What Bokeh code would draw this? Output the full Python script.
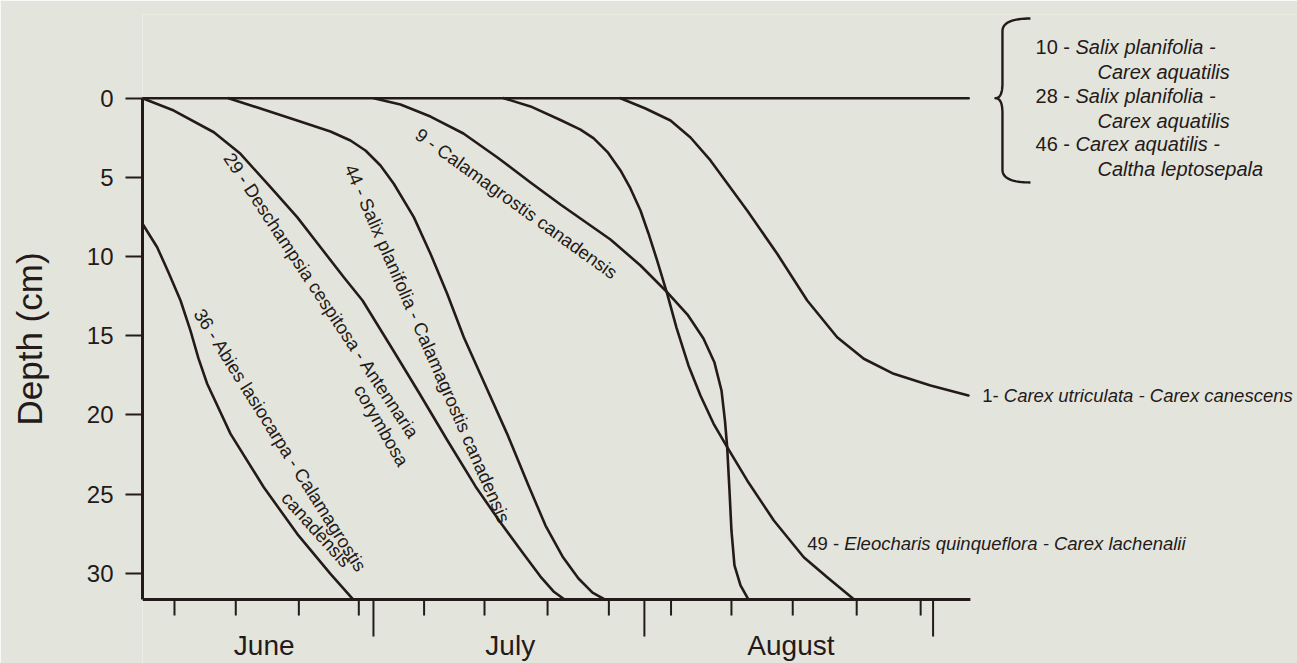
import numpy as np
from bokeh.plotting import figure
from bokeh.models import Range1d, FixedTicker, ColumnDataSource
from bokeh.core.properties import value
from bokeh.embed import file_html
from bokeh.resources import INLINE

# ---------------- data ----------------
# x: days after 1 June, y: depth of water table (cm)
month_names = ["June", "July", "August"]
month_mid_day = [17.1, 44.8, 76.4]
month_start_day = [29.4, 59.9, 92.4]
week_day = [7.0, 13.9, 21.0, 27.75, 35.1, 41.9, 49.0, 55.9, 62.9, 69.7, 76.6, 83.8, 91.0]
depth_ticks = [0, 5, 10, 15, 20, 25, 30]

# stands 10, 28, 46 (water table stays at surface)
surface_day = [3.4, 96.4]
surface_depth = [0.0, 0.0]

s36_day = [3.4, 5.05, 6.33, 7.68, 8.80, 9.70, 10.68, 13.31, 17.05, 20.81, 24.56, 27.13]
s36_depth = [7.93, 9.41, 11.00, 12.77, 14.67, 16.43, 18.03, 21.19, 24.56, 27.50, 30.03, 31.65]

s29_day = [3.4, 6.92, 11.43, 14.43, 17.81, 20.81, 23.44, 26.06, 28.17, 31.43, 34.58, 37.73,
           40.89, 43.70, 46.18, 48.20, 49.67, 50.91]
s29_depth = [0.0, 0.78, 2.15, 3.51, 5.62, 7.51, 9.41, 11.30, 12.77, 15.74, 18.64, 21.61,
             24.51, 26.79, 28.68, 30.20, 31.14, 31.65]

s44_day = [13.08, 16.68, 20.81, 24.56, 26.81, 28.50, 30.19, 31.69, 33.94, 35.82, 37.70, 39.57,
           41.45, 44.45, 46.85, 48.77, 50.68, 52.48, 54.06, 55.48]
s44_depth = [0.0, 0.65, 1.41, 2.10, 2.67, 3.30, 4.25, 5.40, 7.51, 9.82, 12.35, 15.09,
             17.44, 21.19, 24.45, 26.98, 28.93, 30.32, 31.21, 31.65]

s9_day = [29.44, 32.44, 35.82, 39.53, 43.36, 47.08, 50.45, 53.83, 56.08, 59.46, 62.27, 64.75,
          66.55, 67.79, 68.58, 68.97, 69.22, 69.48, 69.70, 70.04, 70.72, 71.62]
s9_depth = [0.0, 0.40, 1.16, 2.23, 3.74, 5.32, 6.71, 8.04, 8.92, 10.56, 12.14, 13.66,
            15.17, 16.69, 18.45, 20.35, 22.03, 24.77, 27.29, 29.50, 30.76, 31.65]

s49_day = [44.07, 47.08, 50.45, 52.71, 54.20, 55.75, 57.21, 58.33, 59.46, 60.36, 61.34, 62.47,
           63.51, 64.86, 66.21, 67.68, 69.22, 71.47, 74.47, 77.84, 80.48, 83.51]
s49_depth = [0.0, 0.52, 1.38, 1.98, 2.54, 3.40, 4.56, 5.70, 7.09, 8.54, 10.25, 12.35,
             14.48, 16.87, 18.77, 20.54, 22.03, 24.13, 26.66, 28.98, 30.24, 31.65]

s1_day = [57.21, 60.02, 62.84, 65.09, 67.34, 71.47, 74.85, 78.23, 81.60, 84.60, 87.97, 92.11,
          96.38]
s1_depth = [0.0, 0.65, 1.41, 2.48, 3.93, 7.09, 9.82, 12.77, 15.09, 16.45, 17.40, 18.14, 18.77]

# label texts
curve_labels = ["9 - Calamagrostis canadensis",
                "44 - Salix planifolia - Calamagrostis canadensis",
                "29 - Deschampsia cespitosa - Antennaria",
                "corymbosa",
                "36 - Abies lasiocarpa - Calamagrostis",
                "canadensis"]
stand_numbers = ["10 -", "28 -", "46 -", "1-", "49 -"]
stand_names = ["Salix planifolia -", "Salix planifolia -", "Carex aquatilis -",
               "Carex utriculata - Carex canescens",
               "Eleocharis quinqueflora - Carex lachenalii"]
stand_names2 = ["Carex aquatilis", "Carex aquatilis", "Caltha leptosepala"]

# ---------------- layout / style ----------------
BG = "#e3e5dc"
INK = "#241a19"
FONT = "Liberation Sans"
W, H = 1297, 663
LEFT, RIGHT, TOP, BOTTOM = 142, 0, 14, 0
PX_PER_DAY = 8.883
PX_PER_CM = 15.84
X0 = 3.4
X1 = X0 + (W - LEFT - RIGHT) / PX_PER_DAY
AXIS_DEPTH = 31.65          # depth at which the time axis is drawn
Y_TOP = -5.284
Y_BOTTOM = Y_TOP + (H - TOP - BOTTOM) / PX_PER_CM
X_AXIS_END = 96.6

p = figure(width=W, height=H, x_range=Range1d(X0, X1), y_range=Range1d(Y_BOTTOM, Y_TOP),
           output_backend="svg", toolbar_location=None,
           min_border_left=LEFT, min_border_right=RIGHT, min_border_top=TOP,
           min_border_bottom=BOTTOM, background_fill_color=BG, border_fill_color=BG,
           outline_line_color=None)
p.xgrid.visible = False
p.ygrid.visible = False
p.xaxis.visible = False

ya = p.yaxis[0]
ya.ticker = FixedTicker(ticks=depth_ticks, minor_ticks=[])
ya.bounds = (0, AXIS_DEPTH)
ya.axis_line_color = INK
ya.axis_line_width = 3
ya.major_tick_line_color = INK
ya.major_tick_line_width = 2
ya.major_tick_out = 17
ya.major_tick_in = 0
ya.minor_tick_out = 0
ya.minor_tick_in = 0
ya.major_label_text_font = FONT
ya.major_label_text_font_size = "24px"
ya.major_label_text_color = INK
ya.major_label_standoff = 12
ya.axis_label = "Depth (cm)"
ya.axis_label_text_font = FONT
ya.axis_label_text_font_size = "35px"
ya.axis_label_text_font_style = "normal"
ya.axis_label_text_color = INK
ya.axis_label_standoff = 35

# time axis drawn through the data scales (so month names can sit below it)
p.segment(x0=[X0], y0=[AXIS_DEPTH], x1=[X_AXIS_END], y1=[AXIS_DEPTH],
          line_color=INK, line_width=3)
minor_len = 16 / PX_PER_CM
major_len = 37 / PX_PER_CM
p.segment(x0=week_day, y0=[AXIS_DEPTH] * len(week_day), x1=week_day,
          y1=[AXIS_DEPTH + minor_len] * len(week_day), line_color=INK, line_width=2)
p.segment(x0=month_start_day, y0=[AXIS_DEPTH] * len(month_start_day), x1=month_start_day,
          y1=[AXIS_DEPTH + major_len] * len(month_start_day), line_color=INK, line_width=2)
month_label_depth = AXIS_DEPTH + 46 / PX_PER_CM
p.text(x=month_mid_day, y=[month_label_depth] * len(month_names), text=month_names,
       text_font=value(FONT), text_font_size="28px", text_color=INK,
       text_align="center", text_baseline="middle")

LW = 2.6
for xs, ys in [(surface_day, surface_depth), (s36_day, s36_depth), (s29_day, s29_depth),
               (s44_day, s44_depth), (s9_day, s9_depth), (s49_day, s49_depth),
               (s1_day, s1_depth)]:
    p.line(xs, ys, line_color=INK, line_width=LW, line_join="round", line_cap="round")

# brace grouping stands 10, 28, 46
ARM, SPINE, TIP = 103.36, 100.21, 99.42
B_TOP, B_MID, B_BOT = -5.03, 0.0, 5.32
R_END, R_MID = 0.8, 0.95


def quad(p0, c, p1, n=18):
    t = np.linspace(0, 1, n)
    x = (1 - t) ** 2 * p0[0] + 2 * (1 - t) * t * c[0] + t ** 2 * p1[0]
    y = (1 - t) ** 2 * p0[1] + 2 * (1 - t) * t * c[1] + t ** 2 * p1[1]
    return list(x), list(y)


bx, by = [], []
for seg in [quad((ARM, B_TOP), (SPINE, B_TOP), (SPINE, B_TOP + R_END)),
            quad((SPINE, B_MID - R_MID), (SPINE, B_MID), (TIP, B_MID)),
            quad((TIP, B_MID), (SPINE, B_MID), (SPINE, B_MID + R_MID)),
            quad((SPINE, B_BOT - R_END), (SPINE, B_BOT), (ARM, B_BOT))]:
    bx += seg[0]
    by += seg[1]
p.line(bx, by, line_color=INK, line_width=2.4, line_join="round")

# rotated labels along the curves
rot_x = [45.50, 35.48, 23.55, 30.30, 18.93, 22.99]
rot_y = [6.65, 15.49, 12.47, 20.66, 21.61, 27.23]
rot_deg = [-35.7, -66.5, -56.5, -60.0, -57.8, -48.0]
rot_src = ColumnDataSource(dict(x=rot_x, y=rot_y, text=curve_labels,
                                angle=list(np.deg2rad(rot_deg))))
p.text(x="x", y="y", text="text", angle="angle", source=rot_src,
       text_font=value(FONT), text_font_size="18.5px", text_color=INK,
       text_align="center", text_baseline="middle")

# stand numbers (upright) and names (italic)
num_x = [103.93, 103.93, 103.93, 97.93, 78.23]
num_y = [-3.22, -0.17, 2.88, 18.77, 28.13]
num_size = ["20px", "20px", "20px", "18.5px", "18.5px"]
name_x = [108.43, 108.43, 108.43, 100.36, 82.39]
p.text(x="x", y="y", text="text", text_font_size="size",
       source=ColumnDataSource(dict(x=num_x, y=num_y, text=stand_numbers, size=num_size)),
       text_font=value(FONT), text_color=INK, text_align="left", text_baseline="middle")
p.text(x="x", y="y", text="text", text_font_size="size",
       source=ColumnDataSource(dict(x=name_x, y=num_y, text=stand_names, size=num_size)),
       text_font=value(FONT), text_font_style="italic", text_color=INK,
       text_align="left", text_baseline="middle")
name2_x = [110.91, 110.91, 110.91]
name2_y = [-1.64, 1.41, 4.46]
p.text(x=name2_x, y=name2_y, text=stand_names2, text_font=value(FONT),
       text_font_size="20px", text_font_style="italic", text_color=INK,
       text_align="left", text_baseline="middle")

open("out.html", "w").write(file_html(p, INLINE, title="Water table depth"))
